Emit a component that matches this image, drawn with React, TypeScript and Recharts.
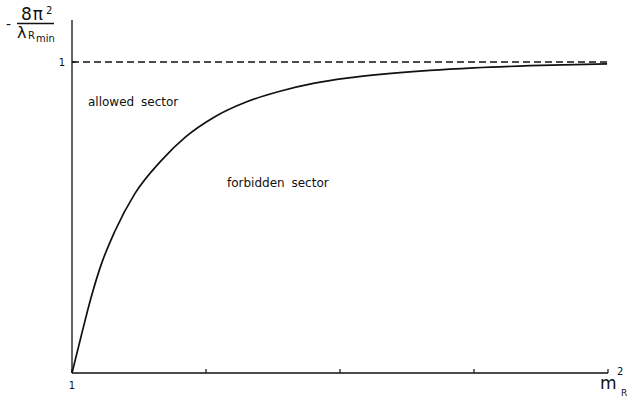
import React from "react";
import { LineChart, Line, XAxis, YAxis, ReferenceLine } from "recharts";

// m_R^2 positions (axis units, first tick = 1)
const mSquared = [0, 0.069, 0.144, 0.219, 0.319, 0.468, 0.666, 0.85, 1.054, 1.304, 1.552, 1.801, 2.05, 2.3, 2.672, 3.0, 3.418, 3.993];
// -8pi^2 / lambda_Rmin
const lambdaRatio = [0, 0.12, 0.245, 0.35, 0.455, 0.576, 0.683, 0.76, 0.821, 0.872, 0.906, 0.931, 0.948, 0.96, 0.973, 0.981, 0.988, 0.994];

const xTicks = [0, 1, 2, 3, 4];
const xTickLabels = ["1", "", "", "", ""];
const yTicks = [1];
const yTickLabels = ["1"];
const asymptote = 1;

const data = mSquared.map((m, i) => ({ m, v: lambdaRatio[i] }));

const INK = "#111";
const FONT = "'DejaVu Sans', sans-serif";

const XTick = (props: any) => {
  const { x, y, index } = props;
  return (
    <g>
      <line x1={x} x2={x} y1={y} y2={y - 4} stroke={INK} strokeWidth={1.2} />
      <text x={x} y={y + 16} textAnchor="middle" fontSize={10} fill={INK} fontFamily={FONT}>
        {xTickLabels[index]}
      </text>
    </g>
  );
};

const YTick = (props: any) => {
  const { x, y, index } = props;
  return (
    <g>
      <line x1={x} x2={x + 4} y1={y} y2={y} stroke={INK} strokeWidth={1.2} />
      <text x={x - 7} y={y + 4} textAnchor="end" fontSize={10} fill={INK} fontFamily={FONT}>
        {yTickLabels[index]}
      </text>
    </g>
  );
};

export default function App() {
  return (
    <div style={{ position: "absolute", left: 0, top: 0, width: 633, height: 400, background: "#fff" }}>
      <LineChart
        width={633}
        height={400}
        data={data}
        margin={{ top: 20, right: 25, bottom: 0, left: 0 }}
        style={{ fontFamily: FONT }}
      >
        <XAxis
          dataKey="m"
          type="number"
          domain={[0, 4]}
          ticks={xTicks}
          interval={0}
          tickSize={0}
          tickMargin={0}
          tickLine={false}
          height={27}
          axisLine={{ stroke: INK, strokeWidth: 1.3 }}
          tick={<XTick />}
        />
        <YAxis
          type="number"
          domain={[0, 1.135]}
          ticks={yTicks}
          interval={0}
          tickSize={0}
          tickMargin={0}
          tickLine={false}
          width={72}
          axisLine={{ stroke: INK, strokeWidth: 1.3 }}
          tick={<YTick />}
        />
        <ReferenceLine y={asymptote} stroke={INK} strokeWidth={1.3} strokeDasharray="7 4" />
        <Line
          type="monotone"
          dataKey="v"
          stroke={INK}
          strokeWidth={1.7}
          dot={false}
          isAnimationActive={false}
        />
        <text x={6} y={29} fontSize={14} fill={INK} fontFamily={FONT}>-</text>
        <text x={21} y={20} fontSize={17} fill={INK} fontFamily={FONT} letterSpacing={1}>8π</text>
        <text x={46} y={14} fontSize={10} fill={INK} fontFamily={FONT}>2</text>
        <line x1={17} x2={54} y1={23.5} y2={23.5} stroke={INK} strokeWidth={1.3} />
        <text x={17} y={38} fontSize={16} fill={INK} fontFamily={FONT}>λ</text>
        <text x={28} y={39} fontSize={10} fill={INK} fontFamily={FONT}>R</text>
        <text x={36} y={42} fontSize={10} fill={INK} fontFamily={FONT}>min</text>
        <text x={88} y={106} fontSize={12} fill={INK} fontFamily={FONT} wordSpacing={3}>allowed sector</text>
        <text x={227} y={187} fontSize={12} fill={INK} fontFamily={FONT} wordSpacing={3}>forbidden sector</text>
        <text x={600} y={389} fontSize={17} fill={INK} fontFamily={FONT}>m</text>
        <text x={617} y={375} fontSize={10} fill={INK} fontFamily={FONT}>2</text>
        <text x={621} y={396} fontSize={9} fill={INK} fontFamily={FONT}>R</text>
      </LineChart>
    </div>
  );
}
